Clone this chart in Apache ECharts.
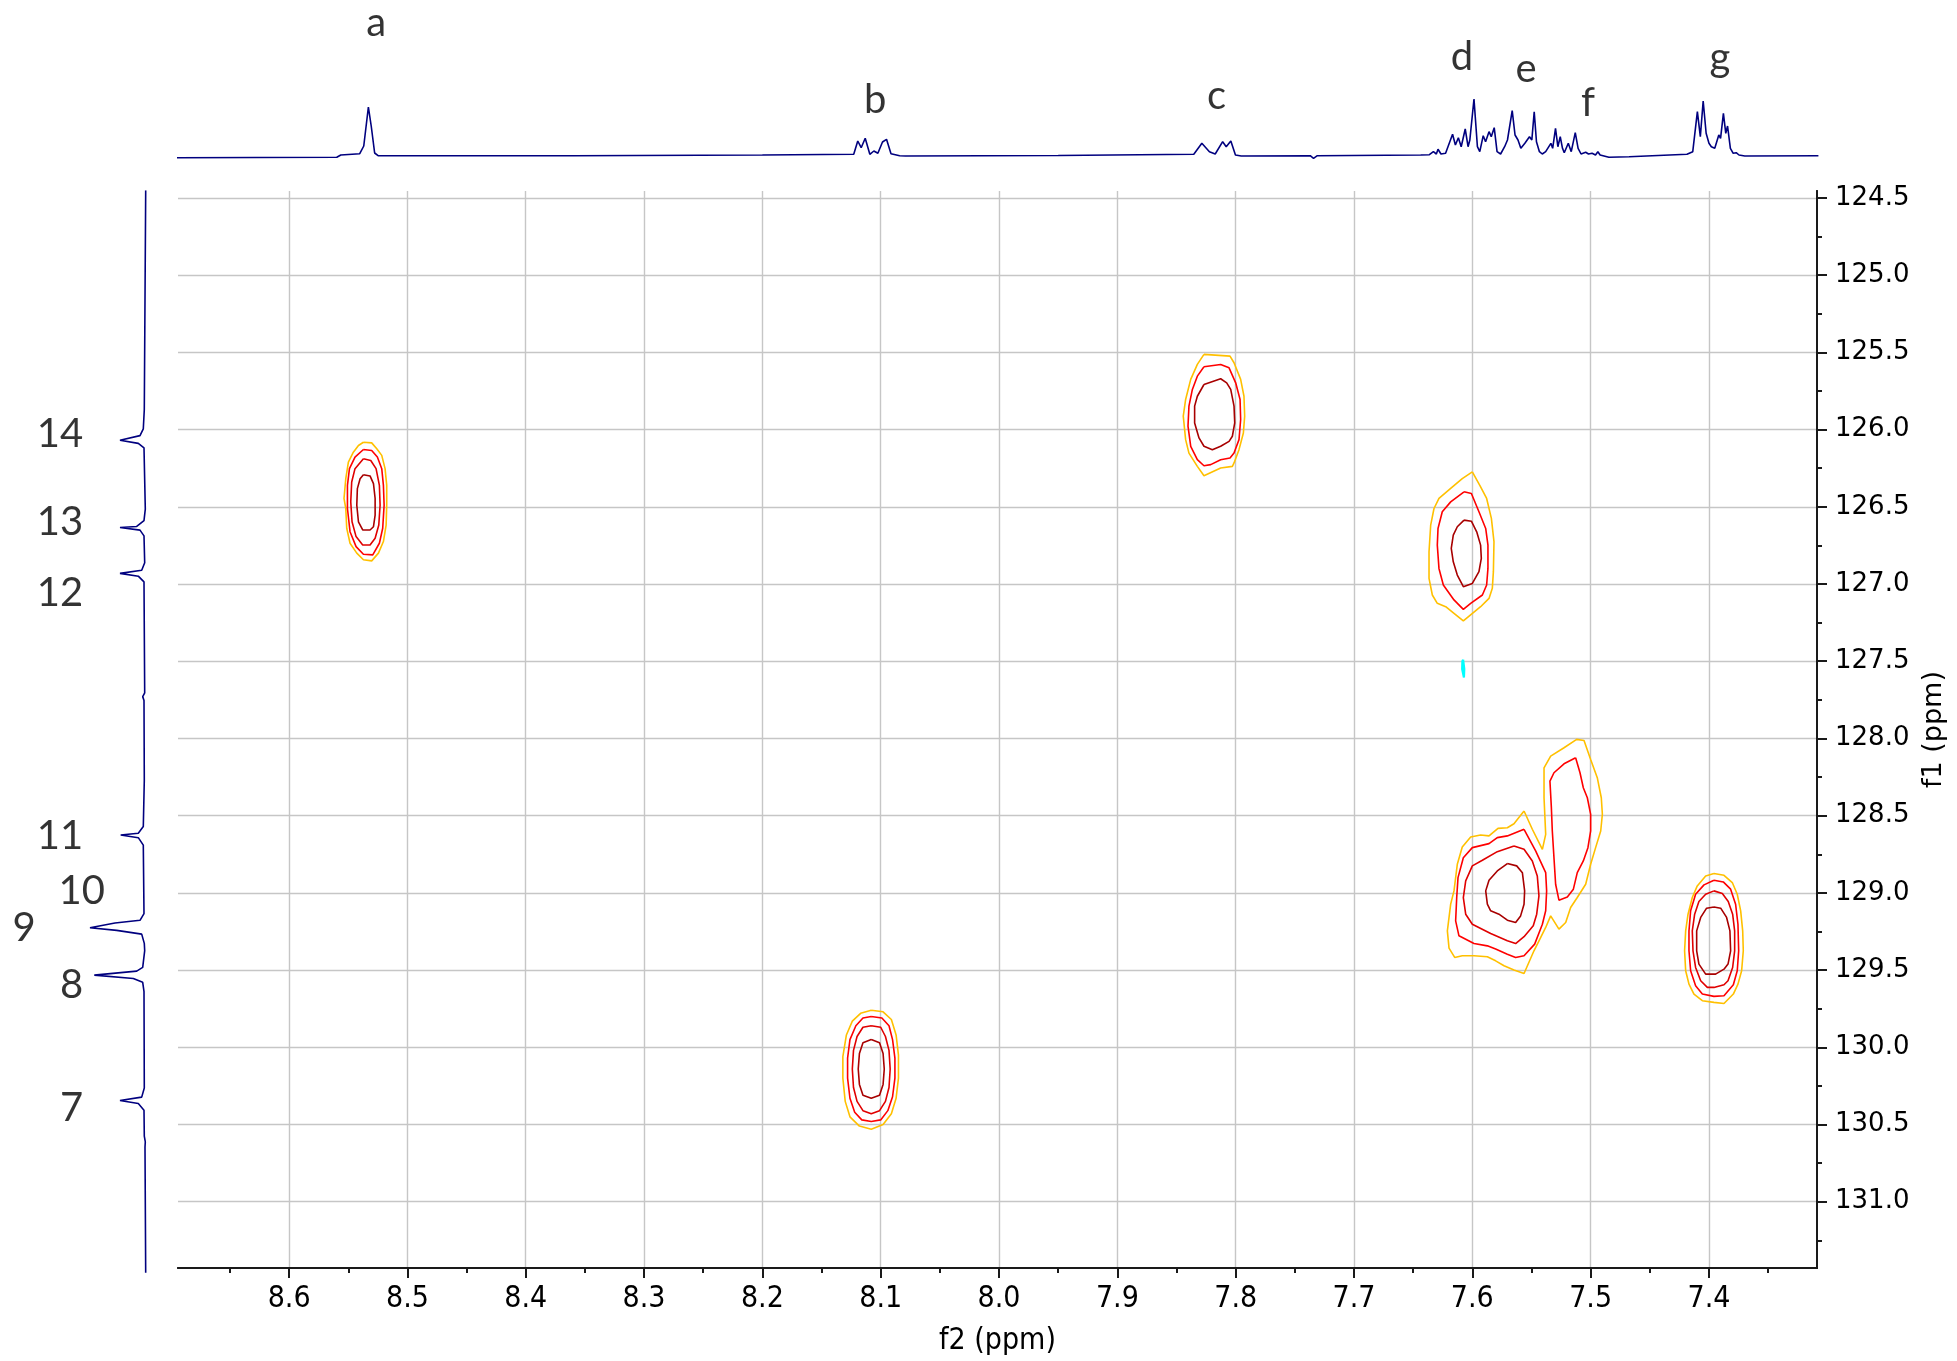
<!DOCTYPE html>
<html>
<head>
<meta charset="utf-8">
<script src="https://cdn.jsdelivr.net/npm/echarts@6/dist/echarts.min.js"></script>
<style>html,body{margin:0;padding:0;background:#fff}#chart{width:1957px;height:1361px}</style>
</head>
<body>
<div id="chart"></div>
<script>
// ---------- axis ranges & ticks ----------
const f2Min = 7.3087, f2Max = 8.6939;
const f1Min = 124.455, f1Max = 131.429;
const xMajorTicks = [7.4, 7.5, 7.6, 7.7, 7.8, 7.9, 8.0, 8.1, 8.2, 8.3, 8.4, 8.5, 8.6];
const xMinorTicks = [7.35, 7.45, 7.55, 7.65, 7.75, 7.85, 7.95, 8.05, 8.15, 8.25, 8.35, 8.45, 8.55, 8.65];
const yMajorTicks = [124.5, 125.0, 125.5, 126.0, 126.5, 127.0, 127.5, 128.0, 128.5, 129.0, 129.5, 130.0, 130.5, 131.0];
const yMinorTicks = [124.75, 125.25, 125.75, 126.25, 126.75, 127.25, 127.75, 128.25, 128.75, 129.25, 129.75, 130.25, 130.75, 131.25];

// ---------- 1H projection (ppm, intensity) ----------
const protonSpectrum = [[8.7005,-1.7],[8.5597,-1.3],[8.5563,1.0],[8.5403,2.3],[8.5369,10],[8.5330,49],[8.5306,30],[8.5277,3],[8.5248,0.3],[8.36,0.3],[8.2,1],[8.1228,1.7],[8.1194,15],[8.1165,8.3],[8.1131,17.7],[8.1092,1.7],[8.1058,5],[8.1024,2.7],[8.0985,14],[8.0951,16.7],[8.0913,2.3],[8.0840,0.2],[8.0791,0],[7.95,0.5],[7.8354,1.7],[7.8286,12.7],[7.8222,4.3],[7.8173,2],[7.8110,14.3],[7.8080,9.3],[7.8041,15],[7.8002,1],[7.7953,0],[7.737,0.3],[7.7342,-2.3],[7.731,0.3],[7.6436,1],[7.6363,1.3],[7.6329,4.3],[7.6304,2],[7.6290,6.7],[7.6265,2],[7.6226,2.7],[7.6167,21.7],[7.6143,11],[7.6118,18.3],[7.6094,9.3],[7.6060,27],[7.6036,9.3],[7.6021,16],[7.5986,57],[7.5957,9.3],[7.5937,4.3],[7.5908,20.3],[7.5888,14.3],[7.5859,24.3],[7.5840,19.3],[7.5815,28.3],[7.5791,4.3],[7.5761,2],[7.5727,9.3],[7.5703,16],[7.5663,45.3],[7.5639,21],[7.5614,16],[7.5590,7.7],[7.5556,12.7],[7.5517,19.3],[7.5497,16],[7.5477,44.3],[7.5458,14.3],[7.5433,4.3],[7.5409,2],[7.5380,4.3],[7.5336,12.7],[7.5321,7.7],[7.5297,27.7],[7.5277,9.3],[7.5257,19.3],[7.5238,7.7],[7.5223,3.3],[7.5189,12.7],[7.5164,4.3],[7.5130,23.3],[7.5106,7.7],[7.5081,2],[7.5042,3.7],[7.5018,2],[7.4988,2.7],[7.4959,1],[7.4939,4.3],[7.4920,1],[7.4846,-1.3],[7.4675,-0.7],[7.4186,1.7],[7.4137,4.3],[7.4098,44.3],[7.4073,19.3],[7.4049,55],[7.4024,22.7],[7.4000,12.7],[7.3980,9.3],[7.3951,7.7],[7.3917,21],[7.3902,17.7],[7.3878,42.7],[7.3858,22.7],[7.3843,30],[7.3819,7.7],[7.3795,2.7],[7.3770,3.3],[7.3746,1],[7.3697,0],[7.3075,0.3]];

// ---------- 13C projection (intensity, ppm) ----------
const carbonSpectrum = [[-0.7,124.45],[0.7,125.865],[1.7,125.989],[5,126.033],[25,126.063],[6.7,126.083],[1,126.112],[-0.3,126.507],[1,126.581],[8.3,126.619],[25,126.626],[5,126.643],[1,126.680],[0.3,126.853],[3.3,126.902],[25,126.922],[6.7,126.940],[1,126.977],[0.3,127.693],[2.3,127.717],[1,127.742],[0.7,128.256],[1.7,128.555],[6.7,128.598],[24.3,128.610],[6.7,128.627],[1.7,128.675],[1,129.117],[5,129.160],[30,129.177],[55,129.208],[28.3,129.225],[3.3,129.249],[0.7,129.309],[0.3,129.356],[2.3,129.464],[8.3,129.488],[50.7,129.514],[11.7,129.536],[2.3,129.560],[1,129.620],[0.7,130.242],[3.3,130.301],[25,130.323],[6.7,130.342],[1,130.385],[0.7,130.553],[-0.3,130.589],[0,130.624],[-0.7,131.44]];

// ---------- peak labels ----------
const protonLabels = ['a', 'b', 'c', 'd', 'e', 'f', 'g'];
const protonLabelPpm = [8.5263, 8.1046, 7.8162, 7.6087, 7.5545, 7.5022, 7.3908];
const protonLabelLevel = [133, 56, 60, 99, 87, 53, 98];
const carbonLabels = ['14', '13', '12', '11', '10', '9', '8', '7'];
const carbonLabelPpm = [126.026, 126.594, 127.048, 128.614, 128.971, 129.21, 129.581, 130.371];
const carbonLabelLevel = [85, 85, 85, 85, 63.3, 121, 73.3, 73.3];

// ---------- HSQC contours (f2 ppm, f1 ppm) ----------
const peakA_L1 = [[8.5372,126.082],[8.5302,126.086],[8.5259,126.124],[8.5217,126.167],[8.5189,126.253],[8.5175,126.361],[8.5175,126.489],[8.5180,126.618],[8.5203,126.725],[8.5245,126.800],[8.5302,126.850],[8.5372,126.843],[8.5428,126.800],[8.5485,126.736],[8.5513,126.639],[8.5521,126.511],[8.5536,126.446],[8.5521,126.318],[8.5499,126.210],[8.5457,126.146],[8.5414,126.103]];
const peakA_L2 = [[8.5372,126.129],[8.5302,126.135],[8.5254,126.178],[8.5217,126.253],[8.5203,126.361],[8.5197,126.489],[8.5209,126.639],[8.5237,126.736],[8.5293,126.811],[8.5372,126.807],[8.5434,126.758],[8.5485,126.661],[8.5507,126.511],[8.5507,126.361],[8.5490,126.253],[8.5443,126.178]];
const peakA_L3 = [[8.5372,126.189],[8.5310,126.200],[8.5265,126.253],[8.5237,126.361],[8.5231,126.489],[8.5242,126.618],[8.5273,126.704],[8.5316,126.747],[8.5378,126.747],[8.5434,126.693],[8.5468,126.597],[8.5479,126.468],[8.5471,126.339],[8.5443,126.253]];
const peakA_L4 = [[8.5372,126.292],[8.5316,126.300],[8.5287,126.350],[8.5273,126.446],[8.5273,126.554],[8.5287,126.629],[8.5316,126.650],[8.5378,126.650],[8.5414,126.597],[8.5428,126.489],[8.5423,126.382],[8.5400,126.318]];

const peakB_L1 = [[8.108,129.76],[8.098,129.77],[8.091,129.82],[8.087,129.92],[8.085,130.05],[8.085,130.20],[8.087,130.33],[8.091,130.43],[8.098,130.50],[8.108,130.53],[8.118,130.51],[8.126,130.45],[8.130,130.35],[8.132,130.20],[8.132,130.06],[8.129,129.92],[8.124,129.83],[8.117,129.78]];
const peakB_L2 = [[8.108,129.80],[8.099,129.81],[8.093,129.86],[8.090,129.95],[8.088,130.07],[8.088,130.20],[8.090,130.32],[8.094,130.41],[8.100,130.47],[8.108,130.48],[8.116,130.47],[8.122,130.42],[8.126,130.33],[8.128,130.20],[8.128,130.07],[8.126,129.95],[8.121,129.86],[8.115,129.81]];
const peakB_L3 = [[8.108,129.86],[8.100,129.87],[8.096,129.93],[8.093,130.02],[8.092,130.14],[8.093,130.26],[8.096,130.35],[8.101,130.41],[8.108,130.43],[8.115,130.41],[8.120,130.35],[8.123,130.26],[8.124,130.14],[8.123,130.02],[8.120,129.93],[8.115,129.87]];
const peakB_L4 = [[8.108,129.95],[8.101,129.97],[8.098,130.04],[8.097,130.14],[8.098,130.24],[8.101,130.31],[8.108,130.33],[8.115,130.31],[8.118,130.24],[8.119,130.14],[8.118,130.04],[8.115,129.97]];

const peakC_L1 = [[7.8268,125.513],[7.8048,125.524],[7.8014,125.567],[7.7958,125.675],[7.7930,125.784],[7.7924,125.913],[7.7935,126.022],[7.7972,126.130],[7.8014,126.216],[7.8028,126.238],[7.8127,126.249],[7.8268,126.299],[7.8324,126.238],[7.8395,126.152],[7.8423,126.065],[7.8443,125.913],[7.8423,125.805],[7.8380,125.675],[7.8324,125.578]];
const peakC_L2 = [[7.8268,125.593],[7.8127,125.578],[7.8056,125.600],[7.8000,125.697],[7.7963,125.805],[7.7958,125.935],[7.7972,126.065],[7.8014,126.152],[7.8048,126.184],[7.8127,126.195],[7.8211,126.227],[7.8268,126.234],[7.8324,126.195],[7.8380,126.108],[7.8403,125.978],[7.8395,125.848],[7.8366,125.740],[7.8324,125.654]];
const peakC_L3 = [[7.8268,125.708],[7.8127,125.671],[7.8076,125.697],[7.8042,125.740],[7.8014,125.848],[7.8008,125.957],[7.8028,126.043],[7.8056,126.076],[7.8127,126.108],[7.8197,126.130],[7.8268,126.108],[7.8310,126.054],[7.8347,125.957],[7.8347,125.848],[7.8324,125.784]];

const peakD_L1 = [[7.6000,126.274],[7.5930,126.371],[7.5879,126.446],[7.5839,126.575],[7.5817,126.726],[7.5822,126.920],[7.5831,127.028],[7.5859,127.093],[7.5930,127.147],[7.6076,127.239],[7.6155,127.190],[7.6225,127.147],[7.6296,127.125],[7.6338,127.071],[7.6366,126.963],[7.6366,126.791],[7.6352,126.619],[7.6324,126.511],[7.6282,126.446],[7.6183,126.381],[7.6085,126.317]];
const peakD_L2 = [[7.6070,126.403],[7.6008,126.414],[7.5944,126.532],[7.5887,126.640],[7.5868,126.748],[7.5868,126.899],[7.5879,127.006],[7.5915,127.071],[7.6014,127.125],[7.6076,127.164],[7.6155,127.103],[7.6245,127.006],[7.6282,126.899],[7.6296,126.748],[7.6290,126.640],[7.6254,126.532],[7.6183,126.468]];
const peakD_L3 = [[7.6070,126.586],[7.6008,126.593],[7.5963,126.662],[7.5930,126.748],[7.5924,126.834],[7.5944,126.920],[7.6000,126.996],[7.6076,127.017],[7.6127,126.942],[7.6161,126.856],[7.6178,126.769],[7.6161,126.683],[7.6127,126.629]];
const negativeD = [[7.6078,127.49],[7.6070,127.50],[7.6068,127.55],[7.6071,127.605],[7.6079,127.612],[7.6085,127.60],[7.6086,127.55],[7.6084,127.50]];

const peakEF_L1 = [[7.5563,128.470],[7.5493,128.588],[7.5408,128.718],[7.5380,128.621],[7.5394,128.384],[7.5394,128.190],[7.5338,128.114],[7.5225,128.060],[7.5118,128.006],[7.5056,128.013],[7.5000,128.136],[7.4944,128.254],[7.4910,128.384],[7.4901,128.491],[7.4915,128.599],[7.4958,128.707],[7.5000,128.815],[7.5042,128.944],[7.5113,129.030],[7.5169,129.095],[7.5211,129.192],[7.5268,129.235],[7.5338,129.149],[7.5380,129.224],[7.5423,129.289],[7.5479,129.375],[7.5563,129.522],[7.5648,129.500],[7.5732,129.472],[7.5803,129.440],[7.5873,129.414],[7.5986,129.407],[7.6085,129.407],[7.6149,129.418],[7.6197,129.358],[7.6211,129.246],[7.6183,129.073],[7.6155,128.987],[7.6127,128.815],[7.6085,128.703],[7.6014,128.638],[7.5930,128.625],[7.5859,128.631],[7.5783,128.582],[7.5704,128.578],[7.5648,128.552]];
const peakE_L2 = [[7.5563,128.588],[7.5465,128.728],[7.5380,128.869],[7.5372,128.987],[7.5380,129.116],[7.5408,129.203],[7.5473,129.332],[7.5563,129.407],[7.5634,129.418],[7.5704,129.397],[7.5803,129.364],[7.5873,129.343],[7.5986,129.328],[7.6113,129.278],[7.6141,129.181],[7.6132,129.030],[7.6121,128.901],[7.6076,128.772],[7.6000,128.707],[7.5859,128.681],[7.5789,128.642],[7.5704,128.631]];
const peakF_L2 = [[7.5127,128.125],[7.5090,128.222],[7.5062,128.319],[7.5028,128.384],[7.5000,128.491],[7.5000,128.599],[7.5023,128.707],[7.5062,128.793],[7.5113,128.869],[7.5146,128.976],[7.5197,129.026],[7.5268,129.047],[7.5296,128.944],[7.5310,128.772],[7.5324,128.599],[7.5332,128.448],[7.5344,128.276],[7.5310,128.222],[7.5225,128.164]];
const peakE_L3 = [[7.5648,128.696],[7.5563,128.718],[7.5493,128.793],[7.5451,128.890],[7.5437,129.019],[7.5456,129.138],[7.5485,129.213],[7.5563,129.284],[7.5634,129.328],[7.5704,129.310],[7.5845,129.263],[7.6000,129.203],[7.6056,129.138],[7.6076,129.030],[7.6056,128.922],[7.6000,128.825],[7.5915,128.789],[7.5789,128.733]];
const peakE_L4 = [[7.5704,128.810],[7.5625,128.825],[7.5577,128.869],[7.5558,128.987],[7.5563,129.073],[7.5592,129.149],[7.5634,129.192],[7.5704,129.177],[7.5775,129.138],[7.5845,129.116],[7.5873,129.073],[7.5887,128.987],[7.5859,128.918],[7.5789,128.858]];

const peakG_L1 = [[7.3958,128.875],[7.3873,128.886],[7.3803,128.933],[7.3761,129.009],[7.3732,129.116],[7.3715,129.246],[7.3710,129.375],[7.3724,129.504],[7.3755,129.591],[7.3794,129.655],[7.3873,129.716],[7.3958,129.709],[7.4056,129.698],[7.4127,129.655],[7.4169,129.591],[7.4197,129.504],[7.4206,129.375],[7.4197,129.246],[7.4177,129.138],[7.4141,129.030],[7.4099,128.955],[7.4028,128.890]];
const peakG_L2 = [[7.3958,128.918],[7.3879,128.929],[7.3817,128.976],[7.3775,129.073],[7.3755,129.203],[7.3749,129.375],[7.3761,129.504],[7.3794,129.595],[7.3873,129.666],[7.3958,129.670],[7.4056,129.655],[7.4113,129.601],[7.4155,129.504],[7.4169,129.375],[7.4169,129.246],[7.4155,129.116],[7.4113,129.009],[7.4042,128.948]];
const peakG_L3 = [[7.3958,128.987],[7.3887,129.004],[7.3837,129.056],[7.3800,129.138],[7.3783,129.246],[7.3783,129.375],[7.3800,129.483],[7.3839,129.569],[7.3873,129.595],[7.3958,129.612],[7.4014,129.612],[7.4070,129.569],[7.4113,129.483],[7.4135,129.375],[7.4141,129.246],[7.4121,129.138],[7.4085,129.056],[7.4028,129.009]];
const peakG_L4 = [[7.3958,129.091],[7.3901,129.099],[7.3851,129.159],[7.3823,129.246],[7.3817,129.375],[7.3839,129.461],[7.3873,129.494],[7.3944,129.526],[7.4028,129.526],[7.4085,129.461],[7.4104,129.375],[7.4104,129.246],[7.4070,129.159],[7.4020,129.099]];

// ---------- styles ----------
const GOLD = '#FFC000', RED = '#FF0000', RED2 = '#E00000', DARK = '#A80000', CYAN = '#00FFFF';
const SPEC = '#00007F';
const contourSet = [
  [peakA_L1, GOLD], [peakA_L2, RED], [peakA_L3, RED2], [peakA_L4, DARK],
  [peakB_L1, GOLD], [peakB_L2, RED], [peakB_L3, RED2], [peakB_L4, DARK],
  [peakC_L1, GOLD], [peakC_L2, RED], [peakC_L3, DARK],
  [peakD_L1, GOLD], [peakD_L2, RED], [peakD_L3, DARK],
  [peakEF_L1, GOLD], [peakE_L2, RED], [peakF_L2, RED], [peakE_L3, RED2], [peakE_L4, DARK],
  [peakG_L1, GOLD], [peakG_L2, RED], [peakG_L3, RED2], [peakG_L4, DARK]
];

const condensed = "'DejaVu Sans Condensed', 'Liberation Sans Narrow', sans-serif";
const axisColor = '#1a1a1a';
const gridColor = '#c6c6c6';

const series = [];
contourSet.forEach(function (c) {
  series.push({
    type: 'line', xAxisIndex: 0, yAxisIndex: 0,
    data: c[0].concat([c[0][0]]),
    symbol: 'none', silent: true, z: 5,
    lineStyle: { color: c[1], width: 1.6 }
  });
});
series.push({
  type: 'line', xAxisIndex: 0, yAxisIndex: 0,
  data: negativeD.concat([negativeD[0]]),
  symbol: 'none', silent: true, z: 5,
  lineStyle: { color: CYAN, width: 2.2 }
});
series.push({
  type: 'line', xAxisIndex: 2, yAxisIndex: 2, data: protonSpectrum,
  symbol: 'none', silent: true, lineStyle: { color: SPEC, width: 1.6 }
});
series.push({
  type: 'line', xAxisIndex: 3, yAxisIndex: 3, data: carbonSpectrum,
  symbol: 'none', silent: true, lineStyle: { color: SPEC, width: 1.6 }
});
series.push({
  type: 'scatter', xAxisIndex: 2, yAxisIndex: 2, symbolSize: 0, silent: true, clip: false,
  data: protonLabels.map(function (t, i) { return { name: t, value: [protonLabelPpm[i], protonLabelLevel[i]] }; }),
  label: { show: true, position: 'inside', formatter: '{b}', color: '#000', fontSize: 40, fontFamily: 'Lato, sans-serif' }
});
series.push({
  type: 'scatter', xAxisIndex: 3, yAxisIndex: 3, symbolSize: 0, silent: true, clip: false,
  data: carbonLabels.map(function (t, i) { return { name: t, value: [carbonLabelLevel[i], carbonLabelPpm[i]] }; }),
  label: { show: true, position: 'inside', formatter: '{b}', color: '#000', fontSize: 40, fontFamily: 'Lato, sans-serif' }
});

const chart = echarts.init(document.getElementById('chart'), null, { renderer: 'canvas' });
chart.setOption({
  backgroundColor: '#fff',
  animation: false,
  grid: [
    { left: 178, right: 140, top: 191, bottom: 89 },
    { left: 178, right: 140, top: 0, height: 165 },
    { left: 0, width: 150, top: 191, bottom: 89 }
  ],
  xAxis: [
    {
      gridIndex: 0, type: 'value', min: f2Min, max: f2Max, inverse: true, position: 'bottom',
      splitNumber: 14, minInterval: 0.1, maxInterval: 0.1,
      name: 'f2 (ppm)', nameLocation: 'middle', nameGap: 58,
      nameTextStyle: { fontSize: 30, fontFamily: condensed, color: '#000' },
      axisLine: { show: true, lineStyle: { color: axisColor, width: 2 } },
      axisTick: { show: true, customValues: xMajorTicks, length: 10, lineStyle: { color: axisColor, width: 2 } },
      axisLabel: { show: true, customValues: xMajorTicks, margin: 16, fontSize: 30, fontFamily: condensed, color: '#000',
        formatter: function (v) { return v.toFixed(1); } },
      splitLine: { show: true, lineStyle: { color: gridColor, width: 1.4 } }
    },
    {
      gridIndex: 0, type: 'value', min: f2Min, max: f2Max, inverse: true, position: 'bottom', offset: 0,
      axisLine: { show: true, lineStyle: { color: axisColor, width: 2 } },
      axisTick: { show: true, customValues: xMinorTicks, length: 5, lineStyle: { color: axisColor, width: 2 } },
      axisLabel: { show: false }, splitLine: { show: false }
    },
    { gridIndex: 1, type: 'value', min: f2Min, max: f2Max, inverse: true, show: false },
    { gridIndex: 2, type: 'value', min: -5, max: 145, inverse: true, show: false }
  ],
  yAxis: [
    {
      gridIndex: 0, type: 'value', min: f1Min, max: f1Max, inverse: true, position: 'right',
      splitNumber: 14, minInterval: 0.5, maxInterval: 0.5,
      name: 'f1 (ppm)', nameLocation: 'middle', nameGap: 97,
      nameTextStyle: { fontSize: 27, fontFamily: 'DejaVu Sans, sans-serif', color: '#000' },
      axisLine: { show: true, lineStyle: { color: axisColor, width: 2 } },
      axisTick: { show: true, customValues: yMajorTicks, length: 10, lineStyle: { color: axisColor, width: 2 } },
      axisLabel: { show: true, customValues: yMajorTicks, margin: 18, fontSize: 26, fontFamily: 'DejaVu Sans, sans-serif', color: '#000',
        formatter: function (v) { return v.toFixed(1); } },
      splitLine: { show: true, lineStyle: { color: gridColor, width: 1.4 } }
    },
    {
      gridIndex: 0, type: 'value', min: f1Min, max: f1Max, inverse: true, position: 'right', offset: 0,
      axisLine: { show: true, lineStyle: { color: axisColor, width: 2 } },
      axisTick: { show: true, customValues: yMinorTicks, length: 5, lineStyle: { color: axisColor, width: 2 } },
      axisLabel: { show: false }, splitLine: { show: false }
    },
    { gridIndex: 1, type: 'value', min: -9, max: 156, show: false },
    { gridIndex: 2, type: 'value', min: f1Min, max: f1Max, inverse: true, show: false }
  ],
  series: series
});
</script>
</body>
</html>
